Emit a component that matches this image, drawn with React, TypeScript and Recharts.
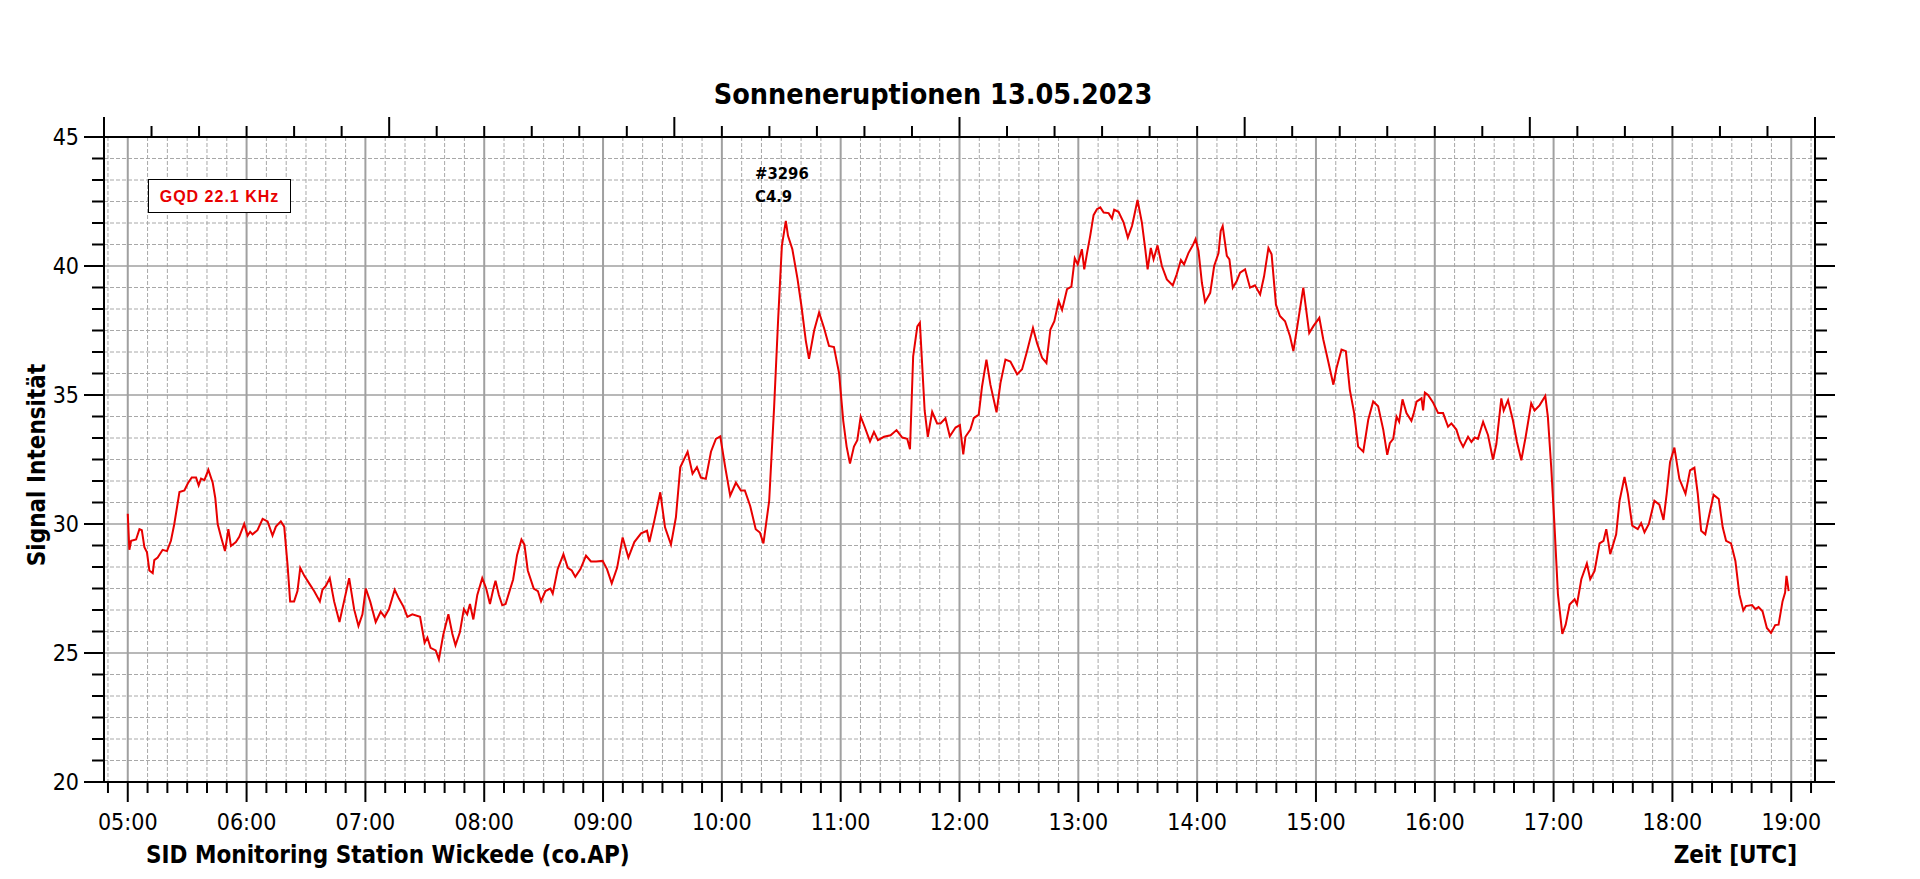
import React from "react";
import { LineChart, Line, XAxis, YAxis, CartesianGrid } from "recharts";

// minutes after midnight (UTC) and signal level
const morningMinutes = [
  300.0, 300.8, 301.7, 304.2, 305.9, 307.1, 308.4, 309.7, 310.9, 312.6,
  313.4, 315.1, 317.6, 319.8, 321.8, 323.5, 326.1, 328.6, 330.3, 332.3,
  334.5, 335.8, 337.0, 338.7, 340.7, 342.9, 344.2, 345.4, 347.1, 349.1,
  350.8, 352.1, 354.6, 356.3, 358.8, 360.5, 361.8, 363.0, 365.5, 368.1,
  370.6, 373.1, 374.8, 377.3, 379.0, 380.7, 382.0, 384.0, 385.7, 387.1,
  389.1, 391.6, 394.1, 397.0, 398.3, 400.0, 402.0, 404.2, 406.9, 409.2,
  411.8, 414.3, 416.5, 418.5, 420.2, 422.4, 425.2, 427.7, 429.7, 431.9,
  434.8, 437.0, 439.2, 441.2, 443.7, 447.6, 449.9, 451.3, 452.9, 455.5,
  457.1, 459.3, 461.9, 463.9, 465.5, 467.7, 469.7, 471.4, 472.8, 474.5,
  476.5, 479.0, 481.0, 482.9, 484.5, 485.7, 487.4, 489.1, 490.8, 492.4,
  494.6, 496.6, 498.8, 500.3, 502.0, 505.0, 507.1, 508.7, 510.9, 513.4,
];
const morningSignal = [
  30.4, 29.0, 29.35, 29.4, 29.8, 29.76, 29.1, 28.9, 28.2, 28.1,
  28.6, 28.7, 29.0, 28.95, 29.35, 30.0, 31.24, 31.3, 31.57, 31.8,
  31.8, 31.5, 31.76, 31.7, 32.1, 31.6, 31.0, 30.0, 29.5, 28.95,
  29.8, 29.15, 29.3, 29.5, 30.0, 29.55, 29.7, 29.6, 29.76, 30.2,
  30.1, 29.55, 29.9, 30.1, 29.9, 28.4, 27.0, 27.0, 27.4, 28.3,
  28.0, 27.7, 27.4, 27.0, 27.45, 27.6, 27.9, 27.0, 26.2, 27.0,
  27.9, 26.7, 26.05, 26.5, 27.5, 27.0, 26.2, 26.6, 26.4, 26.7,
  27.45, 27.1, 26.8, 26.4, 26.5, 26.4, 25.4, 25.6, 25.2, 25.1,
  24.75, 25.7, 26.5, 25.75, 25.3, 25.8, 26.7, 26.5, 26.9, 26.3,
  27.25, 27.9, 27.5, 26.9, 27.45, 27.8, 27.25, 26.85, 26.9, 27.3,
  27.85, 28.8, 29.4, 29.2, 28.2, 27.5, 27.4, 27.0, 27.4, 27.5,
];

const flareMinutes = [
  514.6, 517.1, 520.0, 522.2, 524.2, 526.0, 528.6, 531.4, 533.9, 536.5,
  539.8, 542.0, 544.4, 547.1, 549.9, 552.8, 555.8, 559.2, 562.2, 563.4,
  565.9, 568.9, 571.3, 574.3, 576.8, 579.0, 582.7, 585.2, 587.4, 589.4,
  591.9, 594.5, 597.0, 599.2, 601.7, 604.2, 607.1, 609.6, 611.6, 614.3,
  617.1, 619.2, 621.0, 623.9, 626.4, 628.4, 630.3, 632.3, 633.4, 635.6,
  638.2, 640.2, 642.4, 644.0, 646.6, 649.1, 651.6, 654.1, 656.6, 659.2,
  661.3, 663.0, 664.7, 666.7, 668.4, 670.1, 672.1, 674.8, 676.8, 678.8,
  681.9, 685.2, 688.2, 691.1, 693.6, 695.0, 696.6, 698.7, 700.0, 701.2,
  702.4, 704.0, 706.2, 708.7, 710.4, 712.9, 715.1, 718.0, 720.2, 721.9,
  723.0, 725.5,
];
const flareSignal = [
  27.3, 28.25, 28.83, 28.3, 28.2, 27.95, 28.25, 28.77, 28.55, 28.55,
  28.57, 28.25, 27.7, 28.3, 29.48, 28.7, 29.3, 29.64, 29.74, 29.3,
  30.13, 31.23, 29.87, 29.2, 30.26, 32.2, 32.8, 31.95, 32.2, 31.8,
  31.75, 32.8, 33.3, 33.4, 32.2, 31.1, 31.6, 31.3, 31.3, 30.7,
  29.8, 29.67, 29.25, 30.9, 34.55, 37.9, 40.78, 41.75, 41.17, 40.65,
  39.5, 38.44, 37.1, 36.4, 37.5, 38.2, 37.6, 36.9, 36.86, 35.84,
  34.0, 33.0, 32.34, 33.0, 33.25, 34.16, 33.77, 33.2, 33.57, 33.25,
  33.38, 33.44, 33.64, 33.35, 33.3, 32.9, 36.5, 37.66, 37.8, 36.1,
  34.4, 33.38, 34.35, 33.9, 33.9, 34.1, 33.4, 33.74, 33.83, 32.7,
  33.38, 33.66,
];

const middayMinutes = [
  727.2, 729.7, 731.4, 733.6, 735.6, 738.7, 740.7, 743.2, 745.7, 749.1,
  751.6, 754.1, 757.1, 759.2, 761.7, 763.9, 765.9, 767.9, 770.1, 771.8,
  774.3, 776.5, 778.2, 779.7, 781.8, 783.0, 784.4, 786.0, 787.7, 789.4,
  791.1, 792.8, 795.3, 797.0, 798.1, 800.3, 802.9, 805.0, 807.1, 808.2,
  809.9, 812.1, 813.8, 815.0, 816.6, 818.0, 820.0, 822.2, 824.7, 827.7,
  829.7, 831.8, 833.4, 835.6, 837.8, 839.2, 840.7, 842.4, 844.0, 846.6,
  848.6, 850.8, 851.9, 852.9, 855.0, 856.3, 858.0, 860.0, 861.7, 864.2,
  866.7, 869.2, 871.8, 873.8, 876.0, 877.6, 879.8, 881.8, 884.4, 886.9,
  888.6, 890.6, 893.6, 896.6, 898.7, 901.7, 903.7, 906.2, 908.8, 910.4,
  912.9, 915.1, 917.1, 919.3, 921.3, 923.9, 926.4, 928.9, 931.4, 934.0,
  936.0, 937.3,
];
const middaySignal = [
  34.1, 34.24, 35.34, 36.37, 35.4, 34.33, 35.47, 36.37, 36.3, 35.8,
  36.0, 36.7, 37.6, 37.0, 36.44, 36.24, 37.54, 37.86, 38.64, 38.3,
  39.1, 39.2, 40.3, 40.06, 40.65, 39.87, 40.5, 41.17, 41.97, 42.2,
  42.27, 42.07, 42.05, 41.84, 42.18, 42.1, 41.68, 41.1, 41.55, 41.94,
  42.56, 41.68, 40.65, 39.87, 40.7, 40.26, 40.8, 40.0, 39.48, 39.25,
  39.68, 40.23, 40.06, 40.5, 40.8, 41.04, 40.58, 39.35, 38.6, 38.96,
  40.0, 40.5, 41.36, 41.55, 40.39, 40.26, 39.16, 39.42, 39.74, 39.87,
  39.16, 39.25, 38.9, 39.6, 40.7, 40.45, 38.5, 38.06, 37.86, 37.28,
  36.7, 37.67, 39.16, 37.4, 37.67, 37.99, 37.15, 36.3, 35.4, 36.05,
  36.76, 36.7, 35.2, 34.3, 33.0, 32.8, 34.04, 34.75, 34.56, 33.65,
  32.68, 33.13,
];

const eveningMinutes = [
  939.0, 940.7, 942.0, 943.7, 945.7, 948.2, 949.4, 950.8, 953.3, 954.1,
  955.0, 956.6, 959.2, 961.7, 964.2, 966.7, 968.4, 970.9, 972.6, 974.3,
  976.8, 978.5, 980.2, 981.8, 984.4, 986.9, 989.4, 991.1, 993.6, 994.8,
  997.0, 999.5, 1001.5, 1003.7, 1005.9, 1008.7, 1010.4, 1012.9, 1015.8, 1017.1,
  1018.8, 1020.5, 1022.2, 1024.4, 1026.1, 1028.1, 1030.6, 1031.8, 1034.0, 1036.8,
  1038.5, 1040.7, 1043.2, 1045.2, 1046.6, 1048.6, 1051.6, 1053.3, 1055.8, 1057.5,
  1059.7, 1062.5, 1064.2, 1065.9, 1068.1, 1070.9, 1073.4, 1075.5, 1077.1, 1078.8,
  1081.0, 1083.5, 1086.6, 1088.9, 1091.1, 1092.8, 1094.5, 1096.6, 1098.7, 1100.8,
  1103.4, 1105.4, 1107.1, 1109.6, 1111.8, 1113.8, 1115.8, 1117.1, 1120.2, 1121.9,
  1123.5, 1125.5, 1127.7, 1129.8, 1131.9, 1133.6, 1135.6, 1136.9, 1137.6, 1138.7,
];
const eveningSignal = [
  33.3, 34.16, 33.96, 34.83, 34.3, 34.0, 34.3, 34.74, 34.87, 34.4,
  35.09, 35.0, 34.7, 34.3, 34.3, 33.77, 33.9, 33.66, 33.25, 32.99,
  33.38, 33.18, 33.35, 33.3, 33.96, 33.44, 32.5, 33.1, 34.87, 34.4,
  34.8, 34.0, 33.18, 32.47, 33.38, 34.68, 34.4, 34.6, 34.96, 34.16,
  32.2, 29.87, 27.27, 25.74, 26.1, 26.88, 27.08, 26.88, 27.86, 28.47,
  27.86, 28.18, 29.25, 29.35, 29.8, 28.83, 29.6, 30.9, 31.82, 31.17,
  29.94, 29.8, 30.03, 29.68, 30.0, 30.9, 30.75, 30.16, 31.17, 32.4,
  32.96, 31.75, 31.17, 32.08, 32.18, 31.17, 29.74, 29.6, 30.39, 31.13,
  30.97, 29.87, 29.35, 29.25, 28.57, 27.27, 26.65, 26.82, 26.86, 26.7,
  26.78, 26.62, 25.97, 25.78, 26.08, 26.1, 27.0, 27.34, 27.99, 27.4,
];

const minutes = [...morningMinutes, ...flareMinutes, ...middayMinutes, ...eveningMinutes];
const signal = [...morningSignal, ...flareSignal, ...middaySignal, ...eveningSignal];
const data = minutes.map((m, i) => ({ minute: m, signal: signal[i] }));

// axis ticks
const hourTicks = [300, 360, 420, 480, 540, 600, 660, 720, 780, 840, 900, 960, 1020, 1080, 1140];
const hourLabels = [
  "05:00", "06:00", "07:00", "08:00", "09:00", "10:00", "11:00", "12:00",
  "13:00", "14:00", "15:00", "16:00", "17:00", "18:00", "19:00",
];
const bottomTicks = Array.from({ length: 87 }, (_, i) => 290 + i * 10);
const topTicks = Array.from({ length: 37 }, (_, i) => 288 + i * 24);
const yTicks = Array.from({ length: 31 }, (_, i) => 20 + (i * 5) / 6);
const minorXGrid = bottomTicks.filter((t) => !hourTicks.includes(t));
const minorYGrid = yTicks.filter((_, i) => i % 6 !== 0);
const majorYGrid = [25, 30, 35, 40];

const FONT = "'DejaVu Sans Condensed', 'DejaVu Sans', sans-serif";
const isMajorY = (v: number) => Math.abs(v - Math.round(v / 5) * 5) < 1e-6;

const LeftTick = ({ x, y, payload }: any) => {
  const major = isMajorY(payload.value);
  return (
    <g>
      <line x1={x} x2={x - (major ? 20 : 12)} y1={y} y2={y} stroke="#000" strokeWidth={2} />
      {major && (
        <text x={x - 25} y={y + 8} textAnchor="end" fontFamily={FONT} fontStretch="condensed" fontSize={23} fill="#000">
          {Math.round(payload.value)}
        </text>
      )}
    </g>
  );
};

const RightTick = ({ x, y, payload }: any) => {
  const major = isMajorY(payload.value);
  return <line x1={x} x2={x + (major ? 20 : 12)} y1={y} y2={y} stroke="#000" strokeWidth={2} />;
};

const BottomTick = ({ x, y, payload }: any) => {
  const idx = hourTicks.indexOf(Math.round(payload.value));
  const major = idx >= 0;
  return (
    <g>
      <line x1={x} x2={x} y1={y} y2={y + (major ? 20 : 11)} stroke="#000" strokeWidth={2} />
      {major && (
        <text x={x} y={y + 48} textAnchor="middle" fontFamily={FONT} fontStretch="condensed" fontSize={23} fill="#000">
          {hourLabels[idx]}
        </text>
      )}
    </g>
  );
};

const TopTick = ({ x, y, payload }: any) => {
  const major = Math.round(payload.value - 288) % 144 === 0;
  return <line x1={x} x2={x} y1={y} y2={y - (major ? 20 : 11)} stroke="#000" strokeWidth={2} />;
};

export default function App() {
  return (
    <div style={{ position: "absolute", left: 0, top: 0, width: 1920, height: 879, background: "#fff" }}>
      <LineChart width={1920} height={879} data={data} margin={{ top: 0, right: 0, bottom: 0, left: 0 }}>
        <CartesianGrid vertical={false} horizontalValues={minorYGrid} stroke="#a8a8a8" strokeDasharray="4 2" />
        <CartesianGrid horizontal={false} verticalValues={minorXGrid} stroke="#a8a8a8" strokeDasharray="4 2" />
        <CartesianGrid vertical={false} horizontalValues={majorYGrid} stroke="#a0a0a0" strokeWidth={1.5} />
        <CartesianGrid horizontal={false} verticalValues={hourTicks} stroke="#a0a0a0" strokeWidth={2} />
        <XAxis
          dataKey="minute"
          type="number"
          domain={[288, 1152]}
          allowDataOverflow
          orientation="bottom"
          height={97}
          ticks={bottomTicks}
          interval={0}
          tickSize={0}
          tickMargin={0}
          tickLine={false}
          tick={BottomTick}
          axisLine={{ stroke: "#000", strokeWidth: 2 }}
        />
        <XAxis
          xAxisId="top"
          dataKey="minute"
          type="number"
          domain={[288, 1152]}
          allowDataOverflow
          orientation="top"
          height={137}
          ticks={topTicks}
          interval={0}
          tickSize={0}
          tickMargin={0}
          tickLine={false}
          tick={TopTick}
          axisLine={{ stroke: "#000", strokeWidth: 2 }}
        />
        <YAxis
          type="number"
          domain={[20, 45]}
          allowDataOverflow
          width={104}
          ticks={yTicks}
          interval={0}
          tickSize={0}
          tickMargin={0}
          tickLine={false}
          tick={LeftTick}
          axisLine={{ stroke: "#000", strokeWidth: 2 }}
        />
        <YAxis
          yAxisId="right"
          orientation="right"
          type="number"
          domain={[20, 45]}
          allowDataOverflow
          width={105}
          ticks={yTicks}
          interval={0}
          tickSize={0}
          tickMargin={0}
          tickLine={false}
          tick={RightTick}
          axisLine={{ stroke: "#000", strokeWidth: 2 }}
        />
        <Line
          xAxisId="top"
          yAxisId="right"
          dataKey="signal"
          stroke="none"
          dot={false}
          activeDot={false}
          isAnimationActive={false}
        />
        <Line
          type="linear"
          dataKey="signal"
          stroke="#e80000"
          strokeWidth={2}
          dot={false}
          activeDot={false}
          isAnimationActive={false}
        />
      </LineChart>
      <svg
        width={1920}
        height={879}
        style={{ position: "absolute", left: 0, top: 0, pointerEvents: "none" }}
      >
        <text x={933} y={104} textAnchor="middle" fontFamily={FONT} fontStretch="condensed" fontWeight="bold" fontSize={28.5} fill="#000">
          Sonneneruptionen 13.05.2023
        </text>
        <text x={146} y={863} fontFamily={FONT} fontStretch="condensed" fontWeight="bold" fontSize={24} fill="#000">
          SID Monitoring Station Wickede (co.AP)
        </text>
        <text x={1797} y={863} textAnchor="end" fontFamily={FONT} fontStretch="condensed" fontWeight="bold" fontSize={24} fill="#000">
          Zeit [UTC]
        </text>
        <text
          transform="translate(45 465) rotate(-90)"
          textAnchor="middle"
          fontFamily={FONT}
          fontStretch="condensed"
          fontWeight="bold"
          fontSize={24}
          fill="#000"
        >
          Signal Intensität
        </text>
        <rect x={148.5} y={179.5} width={142} height={33} fill="#fff" stroke="#000" strokeWidth={1} />
        <text x={219.5} y={202} textAnchor="middle" fontFamily="'Liberation Sans', Arial, sans-serif" fontWeight="bold" fontSize={16} letterSpacing={1} fill="#e80000">
          GQD 22.1 KHz
        </text>
        <text x={755} y={179} fontFamily={FONT} fontStretch="condensed" fontWeight="bold" fontSize={16.5} fill="#000">
          #3296
        </text>
        <text x={755} y={202} fontFamily={FONT} fontStretch="condensed" fontWeight="bold" fontSize={16.5} fill="#000">
          C4.9
        </text>
      </svg>
    </div>
  );
}
